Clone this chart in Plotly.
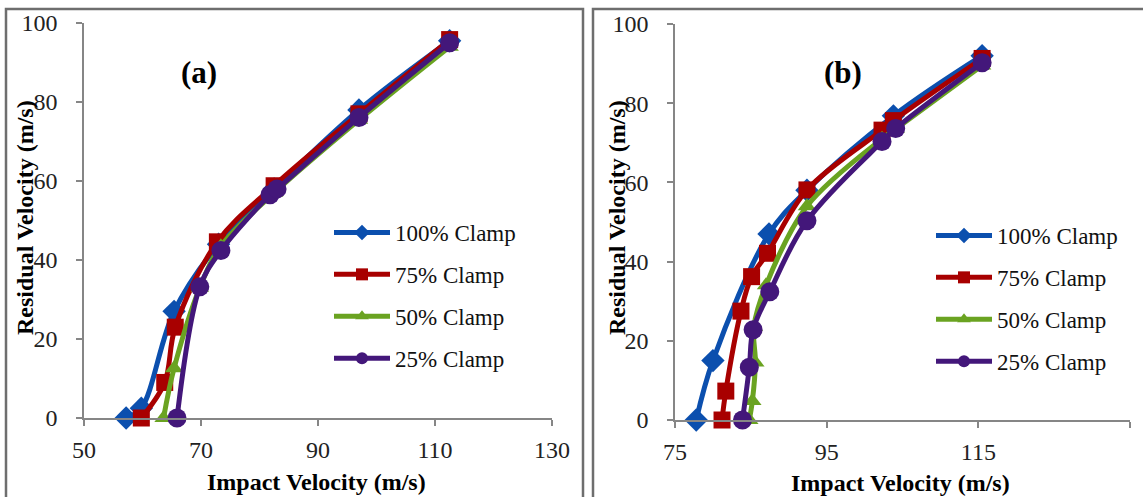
import plotly.graph_objects as go

W, H = 1143, 497

# ---------------- Data ----------------
series_names = ["100% Clamp", "75% Clamp", "50% Clamp", "25% Clamp"]
colors = ["#0B4FAE", "#A80000", "#6AA321", "#43177A"]
symbols = ["diamond", "square", "triangle-up", "circle"]
msizes = [18, 17, 16, 19]

# Panel (a)
a_x_100 = [57.2, 59.8, 65.4, 73.0, 82.5, 97.0, 112.5]
a_y_100 = [0.0, 2.5, 27.0, 44.0, 58.0, 78.0, 95.5]
a_x_75 = [59.8, 63.8, 65.6, 72.8, 82.5, 97.0, 112.5]
a_y_75 = [0.0, 9.0, 23.0, 44.6, 58.8, 77.0, 95.8]
a_x_50 = [63.6, 65.4, 69.8, 73.4, 82.5, 97.0, 112.5]
a_y_50 = [0.0, 12.6, 33.0, 43.5, 57.0, 75.5, 94.0]
a_x_25 = [65.9, 69.8, 73.4, 81.8, 83.0, 97.0, 112.5]
a_y_25 = [0.0, 33.2, 42.4, 56.5, 58.0, 76.1, 95.0]

# Panel (b)
b_x_100 = [77.8, 80.0, 87.4, 92.4, 103.8, 115.5]
b_y_100 = [0.0, 15.0, 47.0, 58.0, 76.8, 92.0]
b_x_75 = [81.2, 81.7, 83.7, 85.1, 87.2, 92.4, 102.3, 103.8, 115.5]
b_y_75 = [0.0, 7.3, 27.5, 36.2, 42.1, 58.1, 73.2, 75.6, 91.3]
b_x_50 = [84.8, 85.2, 85.6, 85.4, 87.0, 92.4, 102.3, 104.1, 115.5]
b_y_50 = [0.0, 4.8, 14.5, 23.5, 34.0, 54.0, 71.0, 73.5, 89.5]
b_x_25 = [83.9, 84.8, 85.3, 87.5, 92.4, 102.3, 104.1, 115.5]
b_y_25 = [0.0, 13.3, 22.8, 32.4, 50.3, 70.3, 73.6, 90.2]

a_xs = [a_x_100, a_x_75, a_x_50, a_x_25]
a_ys = [a_y_100, a_y_75, a_y_50, a_y_25]
b_xs = [b_x_100, b_x_75, b_x_50, b_x_25]
b_ys = [b_y_100, b_y_75, b_y_50, b_y_25]

a_xticks = [50, 70, 90, 110, 130]
b_xticks = [75, 95, 115, 135]
yticks = [0, 20, 40, 60, 80, 100]

FONT = "Liberation Serif, Times New Roman, serif"

fig = go.Figure()

for i in range(4):
    fig.add_trace(go.Scatter(
        x=a_xs[i], y=a_ys[i], mode="lines+markers", name=series_names[i],
        line=dict(color=colors[i], width=5, shape="spline", smoothing=1.0),
        marker=dict(symbol=symbols[i], size=msizes[i], color=colors[i]),
        xaxis="x", yaxis="y", cliponaxis=False,
        legend="legend", legendgroup="a%d" % i,
    ))
for i in range(4):
    fig.add_trace(go.Scatter(
        x=b_xs[i], y=b_ys[i], mode="lines+markers", name=series_names[i],
        line=dict(color=colors[i], width=5, shape="spline", smoothing=1.0),
        marker=dict(symbol=symbols[i], size=msizes[i], color=colors[i]),
        xaxis="x2", yaxis="y2", cliponaxis=False,
        legend="legend2", legendgroup="b%d" % i,
    ))

def px(x):
    return x / W

def py(y):
    return 1 - y / H

axis_common = dict(
    showgrid=False, zeroline=False, showline=True, linecolor="#868686", linewidth=1.5,
    ticks="outside", ticklen=6, tickcolor="#868686", tickwidth=1.5,
    tickfont=dict(family=FONT, size=24, color="#222222"),
    automargin=False,
)

legend_common = dict(
    xanchor="left", yanchor="top",
    font=dict(family=FONT, size=23, color="#111111"),
    bgcolor="rgba(0,0,0,0)", tracegroupgap=9, itemwidth=56,
    traceorder="grouped", itemsizing="constant",
)

fig.update_layout(
    width=W, height=H,
    margin=dict(l=0, r=0, t=0, b=0, autoexpand=False),
    paper_bgcolor="white", plot_bgcolor="white",
    xaxis=dict(domain=[px(84), px(552)], range=[50, 130], tickvals=a_xticks,
               anchor="y", ticklabelstandoff=3, **axis_common),
    yaxis=dict(domain=[py(418), py(23)], range=[0, 100], tickvals=yticks,
               anchor="x", ticklabelstandoff=14, **axis_common),
    xaxis2=dict(domain=[px(675), px(1130)], range=[75, 135], tickvals=b_xticks,
                anchor="y2", ticklabelstandoff=3, **axis_common),
    yaxis2=dict(domain=[py(420), py(24)], range=[0, 100], tickvals=yticks,
                anchor="x2", ticklabelstandoff=14, **axis_common),
    legend=dict(x=px(329), y=py(211), **legend_common),
    legend2=dict(x=px(931), y=py(214), **legend_common),
    showlegend=True,
)

annos = [
    dict(text="<b>(a)</b>", x=px(199), y=py(73), size=31, angle=0),
    dict(text="<b>(b)</b>", x=px(843), y=py(73), size=31, angle=0),
    dict(text="<b>Impact Velocity (m/s)</b>", x=px(316), y=py(482), size=24, angle=0),
    dict(text="<b>Impact Velocity (m/s)</b>", x=px(900), y=py(483), size=24, angle=0),
    dict(text="<b>Residual Velocity (m/s)</b>", x=px(25), y=py(218), size=24, angle=-90),
    dict(text="<b>Residual Velocity (m/s)</b>", x=px(617), y=py(218), size=24, angle=-90),
]
for a in annos:
    fig.add_annotation(text=a["text"], x=a["x"], y=a["y"], xref="paper", yref="paper",
                       xanchor="center", yanchor="middle", showarrow=False,
                       textangle=a["angle"],
                       font=dict(family=FONT, size=a["size"], color="#000000"))

# panel frames
fig.add_shape(type="rect", xref="paper", yref="paper",
              x0=px(6), x1=px(583), y0=-0.05, y1=py(9),
              line=dict(color="#6E6E6E", width=2.5), layer="below")
fig.add_shape(type="rect", xref="paper", yref="paper",
              x0=px(593), x1=1.05, y0=-0.05, y1=py(9),
              line=dict(color="#6E6E6E", width=2.5), layer="below")

fig.write_html("out.html")
